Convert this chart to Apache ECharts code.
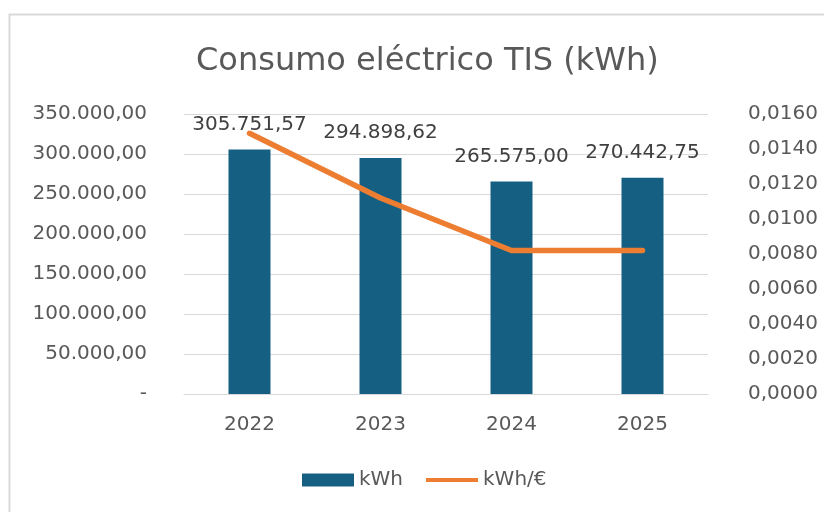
<!DOCTYPE html>
<html>
<head>
<meta charset="utf-8">
<script src="https://cdn.jsdelivr.net/npm/echarts@6/dist/echarts.min.js"></script>
<style>
  html, body { margin: 0; padding: 0; background: #fff; }
  #chart { width: 824px; height: 512px; }
</style>
</head>
<body>
<div id="chart"></div>
<script>
// datos
const years = ['2022', '2023', '2024', '2025']
const kwh = [305751.57, 294898.62, 265575.00, 270442.75]
const kwhPorEuro = [0.0149, 0.0112, 0.0082, 0.0082]

const font = 'DejaVu Sans'
const grey = '#595959'

// formato español: 350.000,00
function fmtEs(v) {
  if (v === 0) return '-'
  const parts = v.toFixed(2).split('.')
  return parts[0].replace(/\B(?=(\d{3})+(?!\d))/g, '.') + ',' + parts[1]
}

const chart = echarts.init(document.getElementById('chart'))
chart.setOption({
  animation: false,
  backgroundColor: '#fff',
  graphic: [{
    type: 'rect',
    shape: { x: 9.5, y: 14.5, width: 840, height: 520 },
    style: { fill: 'none', stroke: '#d9d9d9', lineWidth: 2 },
    silent: true
  }],
  title: {
    text: 'Consumo eléctrico TIS (kWh)',
    left: 191,
    top: 41,
    textStyle: { fontFamily: font, fontSize: 32, fontWeight: 'normal', color: grey }
  },
  legend: {
    bottom: 17,
    left: 297,
    itemWidth: 52,
    itemHeight: 13,
    itemGap: 23,
    textStyle: { fontFamily: font, fontSize: 20, color: grey },
    data: [
      { name: 'kWh', icon: 'rect' },
      { name: 'kWh/€', icon: 'path://M0,0 L55,0 L55,4 L0,4 Z' }
    ]
  },
  grid: { left: 184, right: 116, top: 114, bottom: 118 },
  xAxis: {
    type: 'category',
    data: years,
    axisTick: { show: false },
    axisLine: { lineStyle: { color: '#d9d9d9', width: 1 } },
    axisLabel: { fontFamily: font, fontSize: 20, color: grey, margin: 21 }
  },
  yAxis: [
    {
      type: 'value',
      min: 0,
      max: 350000,
      interval: 50000,
      axisLine: { show: false },
      axisTick: { show: false },
      splitLine: { lineStyle: { color: '#d9d9d9', width: 1 } },
      axisLabel: { fontFamily: font, fontSize: 20, color: grey, margin: 37, formatter: fmtEs }
    },
    {
      type: 'value',
      min: 0,
      max: 0.016,
      interval: 0.002,
      axisLine: { show: false },
      axisTick: { show: false },
      splitLine: { show: false },
      axisLabel: {
        fontFamily: font, fontSize: 20, color: grey, margin: 40,
        formatter: v => v.toFixed(4).replace('.', ',')
      }
    }
  ],
  series: [
    {
      name: 'kWh',
      type: 'bar',
      data: kwh,
      barWidth: 42,
      itemStyle: { color: '#156082' },
      label: {
        show: true,
        position: 'top',
        distance: 15,
        fontFamily: font,
        fontSize: 20,
        color: '#404040',
        formatter: p => fmtEs(p.value)
      }
    },
    {
      name: 'kWh/€',
      type: 'line',
      yAxisIndex: 1,
      data: kwhPorEuro,
      symbol: 'none',
      lineStyle: { color: '#ED7D31', width: 5.5, cap: 'round', join: 'round' },
      itemStyle: { color: '#ED7D31' },
      z: 3
    }
  ]
})
</script>
</body>
</html>
